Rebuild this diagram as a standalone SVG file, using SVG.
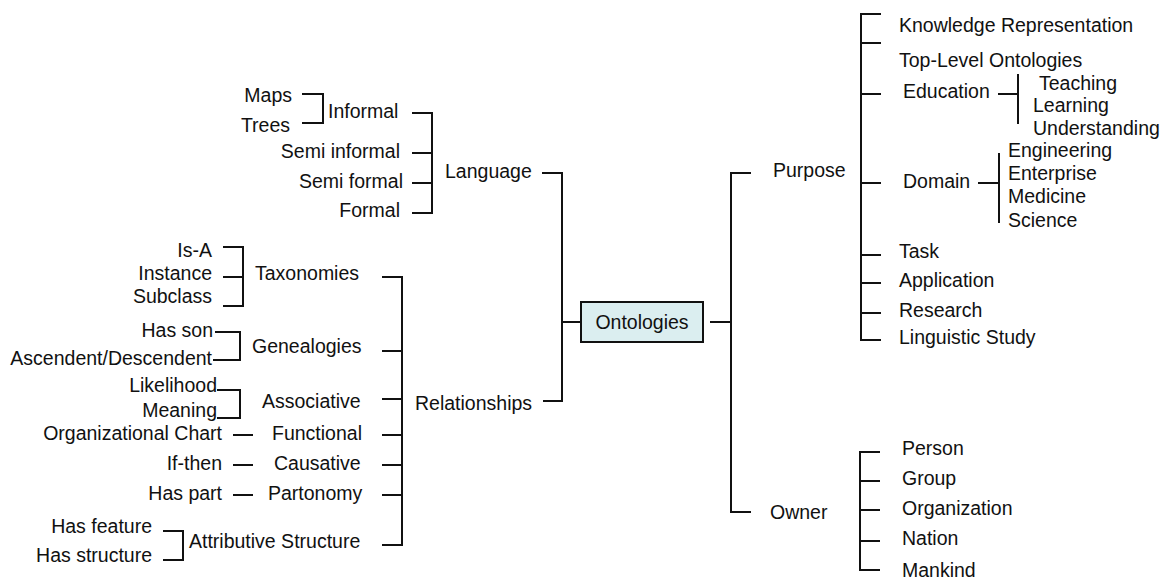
<svg xmlns="http://www.w3.org/2000/svg" width="1169" height="580" viewBox="0 0 1169 580">
<style>
text{font-family:"Liberation Sans",Arial,sans-serif;font-size:19.5px;fill:#111}
.e{text-anchor:end}
.c{text-anchor:middle}
.ln{fill:none;stroke:#111;stroke-width:2}
</style>
<rect width="1169" height="580" fill="#fff"/>
<g id="connectors" class="ln">
<path d="M302,94H323V123H302"/>
<path d="M412,113H432V213H412M412,153H432M412,183H432"/>
<path d="M542,173H562V401H543M562,322H581"/>
<path d="M223,247H243V306H223M223,277H243"/>
<path d="M215,332H240V360H213"/>
<path d="M217,390H240V418H217"/>
<path d="M233,435H253M233,465H253M233,495H253"/>
<path d="M163,531H183V560H163"/>
<path d="M382,277H402V545H382M382,351H402M382,399H402M382,435H402M382,465H402M382,495H402"/>
<path d="M710,322H731M751,173H731V512H751"/>
<path d="M881,14H861V340H881M861,43H881M861,94H881M861,183H881M861,255H881M861,283H881M861,313H881"/>
<path d="M998,94H1018M1018,74V124"/>
<path d="M978,183H999M999,153V223"/>
<path d="M880,452H860V570H880M860,481H880M860,510H880M860,541H880"/>
</g>
<g id="ontologies"><rect x="581" y="302" width="122" height="40" fill="#dbeef0" stroke="#111" stroke-width="2"/><text x="642" y="329" class="c">Ontologies</text></g>
<g id="language"><text x="445" y="178">Language</text></g>
<g id="informal"><text x="328" y="118">Informal</text></g>
<g id="maps"><text x="292" y="102" class="e">Maps</text></g>
<g id="trees"><text x="290" y="132" class="e">Trees</text></g>
<g id="semi-informal"><text x="400" y="158" class="e">Semi informal</text></g>
<g id="semi-formal"><text x="403" y="188" class="e">Semi formal</text></g>
<g id="formal"><text x="400" y="217" class="e">Formal</text></g>
<g id="relationships"><text x="415" y="410">Relationships</text></g>
<g id="taxonomies"><text x="255" y="280">Taxonomies</text></g>
<g id="is-a"><text x="212" y="257" class="e">Is-A</text></g>
<g id="instance"><text x="212" y="280" class="e">Instance</text></g>
<g id="subclass"><text x="212" y="303" class="e">Subclass</text></g>
<g id="genealogies"><text x="252" y="353">Genealogies</text></g>
<g id="has-son"><text x="213" y="337" class="e">Has son</text></g>
<g id="ascendent"><text x="212" y="365" class="e">Ascendent/Descendent</text></g>
<g id="associative"><text x="262" y="408">Associative</text></g>
<g id="likelihood"><text x="217" y="392" class="e">Likelihood</text></g>
<g id="meaning"><text x="217" y="417" class="e">Meaning</text></g>
<g id="functional"><text x="272" y="440">Functional</text></g>
<g id="org-chart"><text x="222" y="440" class="e">Organizational Chart</text></g>
<g id="causative"><text x="274" y="470">Causative</text></g>
<g id="if-then"><text x="222" y="470" class="e">If-then</text></g>
<g id="partonomy"><text x="268" y="500">Partonomy</text></g>
<g id="has-part"><text x="222" y="500" class="e">Has part</text></g>
<g id="attributive"><text x="189" y="548">Attributive Structure</text></g>
<g id="has-feature"><text x="152" y="533" class="e">Has feature</text></g>
<g id="has-structure"><text x="152" y="562" class="e">Has structure</text></g>
<g id="purpose"><text x="773" y="177">Purpose</text></g>
<g id="knowledge"><text x="899" y="32">Knowledge Representation</text></g>
<g id="top-level"><text x="899" y="67">Top-Level Ontologies</text></g>
<g id="education"><text x="903" y="98">Education</text></g>
<g id="teaching"><text x="1039" y="90">Teaching</text></g>
<g id="learning"><text x="1033" y="112">Learning</text></g>
<g id="understanding"><text x="1033" y="135">Understanding</text></g>
<g id="domain"><text x="903" y="188">Domain</text></g>
<g id="engineering"><text x="1008" y="157">Engineering</text></g>
<g id="enterprise"><text x="1008" y="180">Enterprise</text></g>
<g id="medicine"><text x="1008" y="203">Medicine</text></g>
<g id="science"><text x="1008" y="227">Science</text></g>
<g id="task"><text x="899" y="258">Task</text></g>
<g id="application"><text x="899" y="287">Application</text></g>
<g id="research"><text x="899" y="317">Research</text></g>
<g id="linguistic"><text x="899" y="344">Linguistic Study</text></g>
<g id="owner"><text x="770" y="519">Owner</text></g>
<g id="person"><text x="902" y="455">Person</text></g>
<g id="group"><text x="902" y="485">Group</text></g>
<g id="organization"><text x="902" y="515">Organization</text></g>
<g id="nation"><text x="902" y="545">Nation</text></g>
<g id="mankind"><text x="902" y="577">Mankind</text></g>
</svg>
